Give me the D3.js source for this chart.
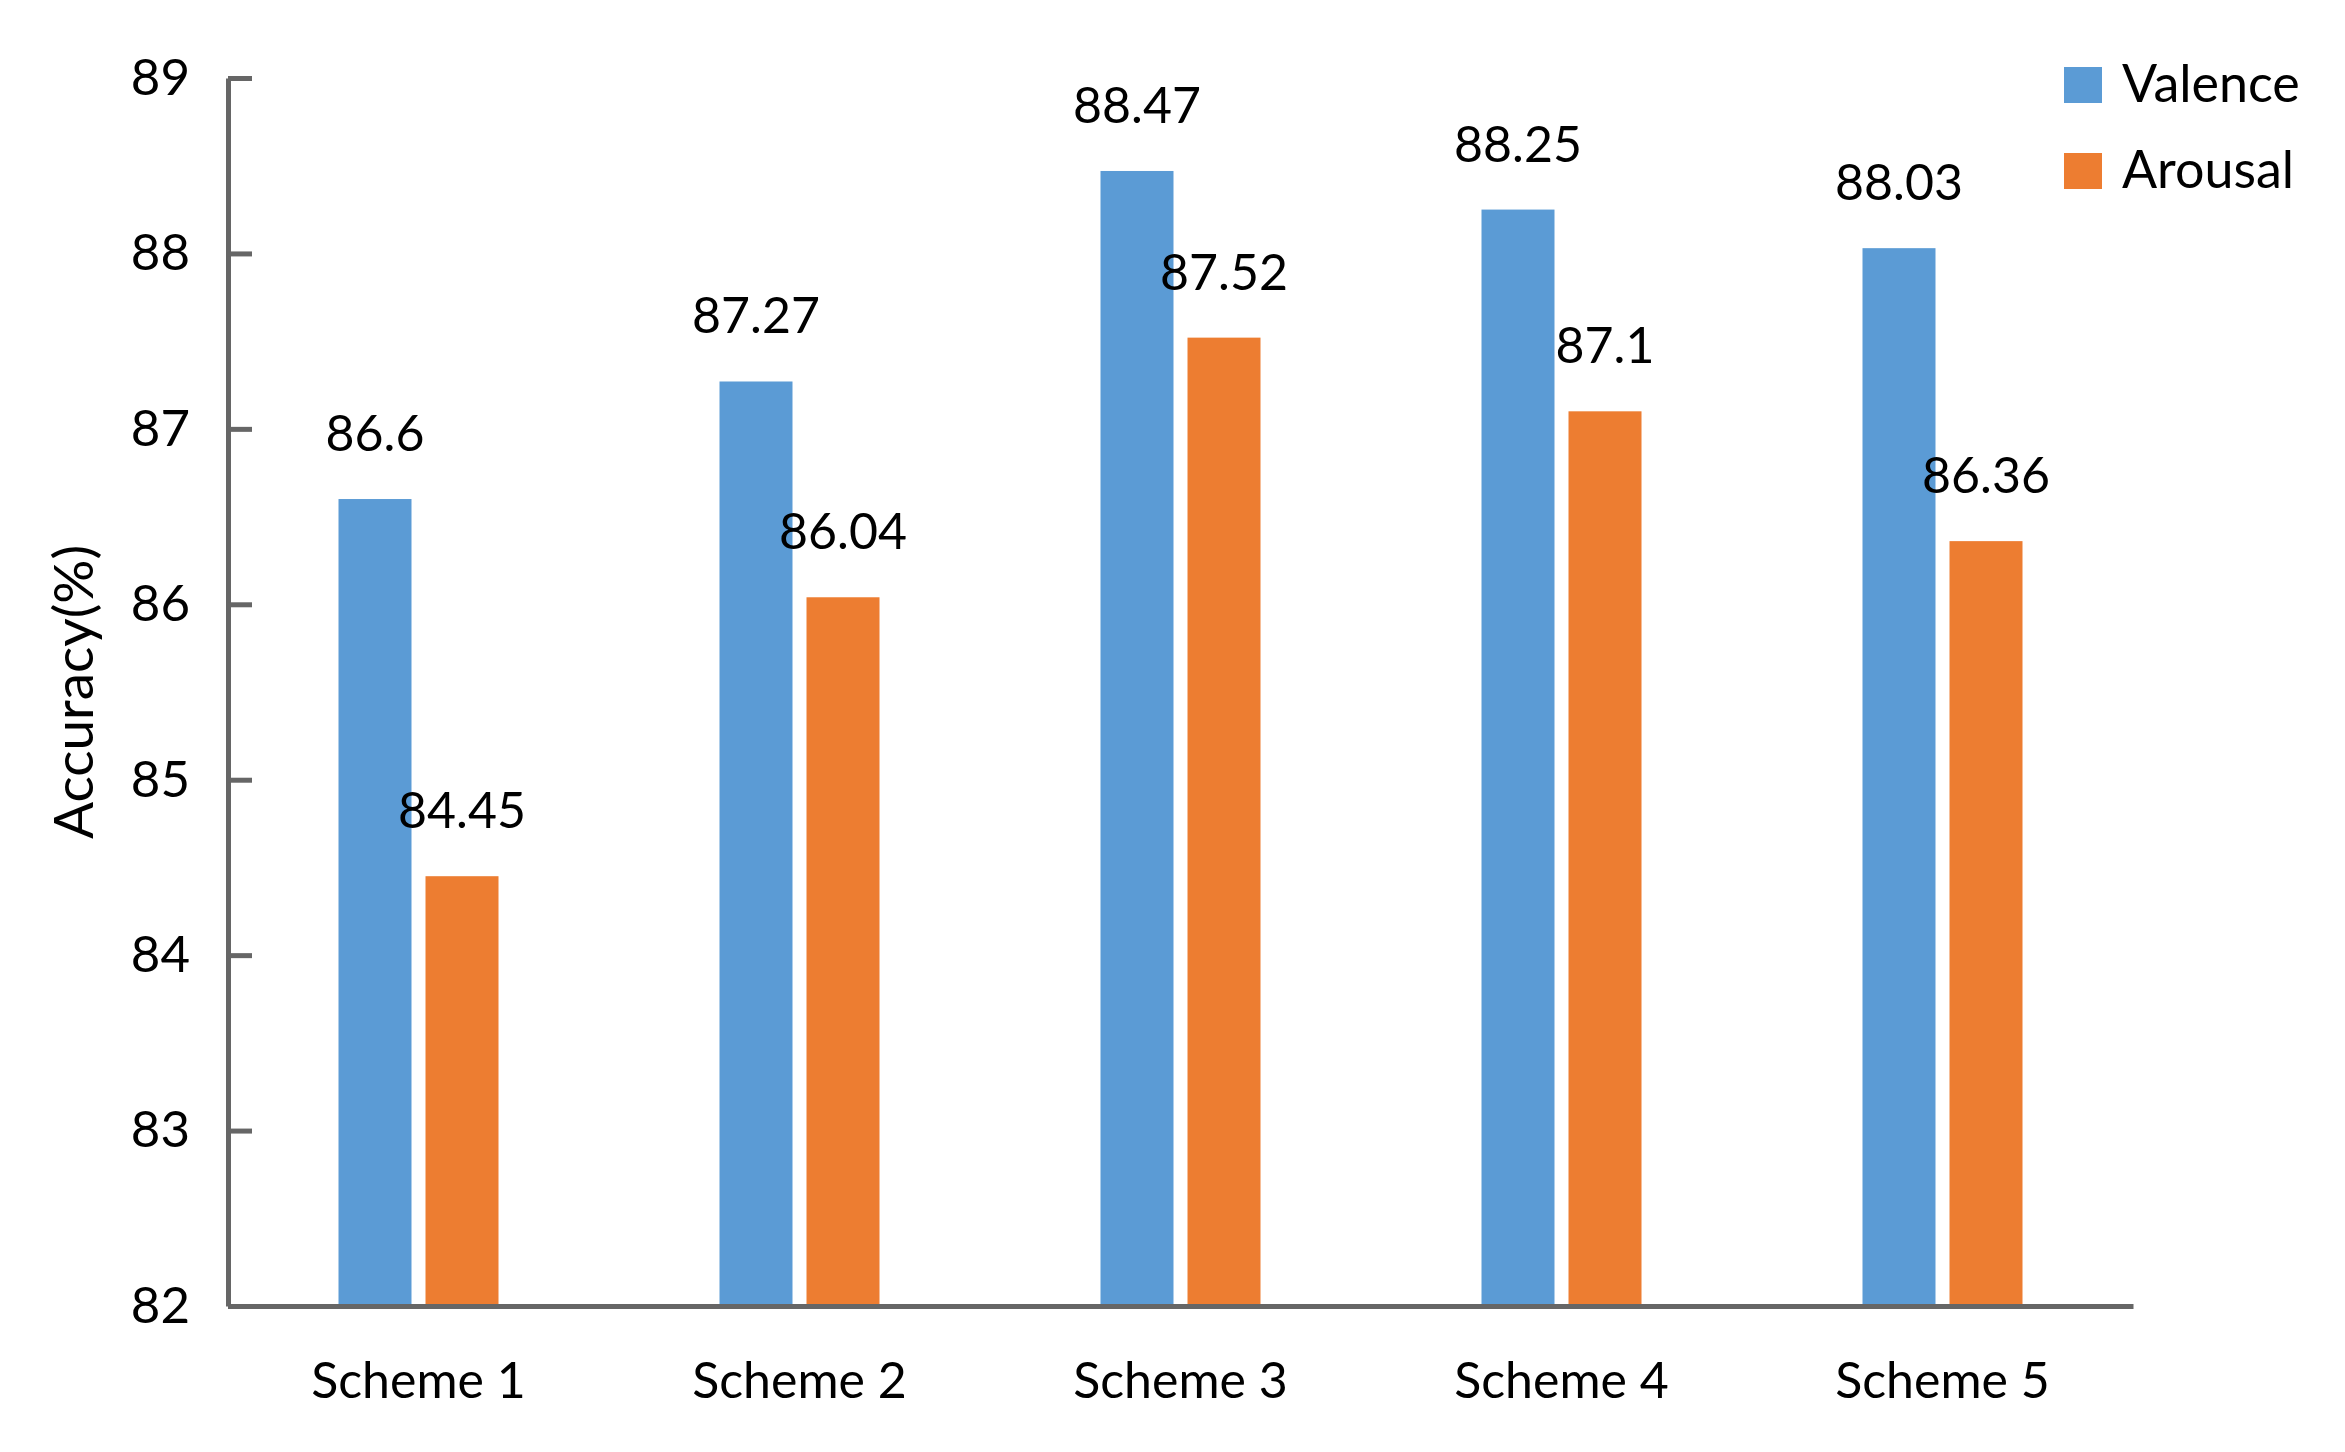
<!DOCTYPE html>
<html>
<head>
<meta charset="utf-8">
<script src="https://cdn.jsdelivr.net/npm/d3@7"></script>
<style>
  body { margin: 0; background: #fff; }
  text { font-family: Lato, "Open Sans", sans-serif; fill: #000; }
</style>
</head>
<body>
<div id="chart"></div>
<script>
const categories = ["Scheme 1", "Scheme 2", "Scheme 3", "Scheme 4", "Scheme 5"];
const seriesNames = ["Valence", "Arousal"];
const valence = [86.6, 87.27, 88.47, 88.25, 88.03];
const arousal = [84.45, 86.04, 87.52, 87.1, 86.36];
const yTicks = [82, 83, 84, 85, 86, 87, 88, 89];
const yTitle = "Accuracy(%)";

function renderBars() {
  const width = 2345,
        height = 1452;
  const left = 228, right = 2133, top = 78, bottom = 1306;
  const colors = ["#5B9BD5", "#ED7D31"];
  const axisColor = "#666666";

  const svg = d3.select("#chart").append("svg")
    .attr("width", width)
    .attr("height", height)
    .attr("viewBox", [0, 0, width, height]);

  const x0 = d3.scaleBand().domain(categories).range([left, right]);
  const groupW = 160;
  const x1 = d3.scaleBand().domain(seriesNames).range([0, groupW]).paddingInner(0.161);
  const y = d3.scaleLinear().domain([82, 89]).range([bottom, top]);
  const color = d3.scaleOrdinal(seriesNames, colors);

  const rows = categories.map((c, i) => ({
    cat: c,
    values: [
      {key: "Valence", value: valence[i]},
      {key: "Arousal", value: arousal[i]}
    ]
  }));

  // bars
  const groups = svg.append("g").selectAll("g")
    .data(rows)
    .enter()
    .append("g")
    .attr("transform", d => `translate(${x0(d.cat) + (x0.bandwidth() - groupW) / 2},0)`);

  groups.selectAll("rect")
    .data(d => d.values)
    .enter()
    .append("rect")
    .attr("x", d => x1(d.key))
    .attr("y", d => y(d.value))
    .attr("width", x1.bandwidth())
    .attr("height", d => y(82) - y(d.value))
    .attr("fill", d => color(d.key));

  groups.selectAll("text")
    .data(d => d.values)
    .enter()
    .append("text")
    .attr("x", d => x1(d.key) + x1.bandwidth() / 2)
    .attr("y", d => y(d.value) - 48)
    .attr("text-anchor", "middle")
    .attr("font-size", 50)
    .text(d => d.value);

  // y axis, ticks point inward
  const yAxis = svg.append("g")
    .attr("transform", `translate(${left},0)`)
    .call(d3.axisLeft(y).tickValues(yTicks).tickFormat(d3.format("d"))
      .tickSizeInner(-24).tickSizeOuter(0).tickPadding(38));
  yAxis.select(".domain").attr("stroke", axisColor).attr("stroke-width", 5);
  yAxis.selectAll(".tick line").attr("stroke", axisColor).attr("stroke-width", 5);
  yAxis.selectAll(".tick text")
    .attr("font-size", 51)
    .attr("font-family", "Lato, sans-serif")
    .attr("fill", "#000");

  // x axis
  const xAxis = svg.append("g")
    .attr("transform", `translate(0,${bottom})`)
    .call(d3.axisBottom(x0).tickSize(0).tickPadding(56));
  xAxis.select(".domain").attr("stroke", axisColor).attr("stroke-width", 5);
  xAxis.selectAll(".tick text")
    .attr("font-size", 50)
    .attr("font-family", "Lato, sans-serif")
    .attr("fill", "#000");

  // y title
  svg.append("text")
    .attr("transform", `translate(93,692) rotate(-90)`)
    .attr("text-anchor", "middle")
    .attr("font-size", 55)
    .text(yTitle);

  // legend
  const legend = svg.append("g").selectAll("g")
    .data(seriesNames)
    .enter()
    .append("g")
    .attr("transform", (d, i) => `translate(2064,${67 + i * 86})`);
  legend.append("rect")
    .attr("width", 38)
    .attr("height", 36)
    .attr("fill", d => color(d));
  legend.append("text")
    .attr("x", 58)
    .attr("y", 35)
    .attr("font-size", 52)
    .text(d => d);
}

renderBars();
</script>
</body>
</html>
